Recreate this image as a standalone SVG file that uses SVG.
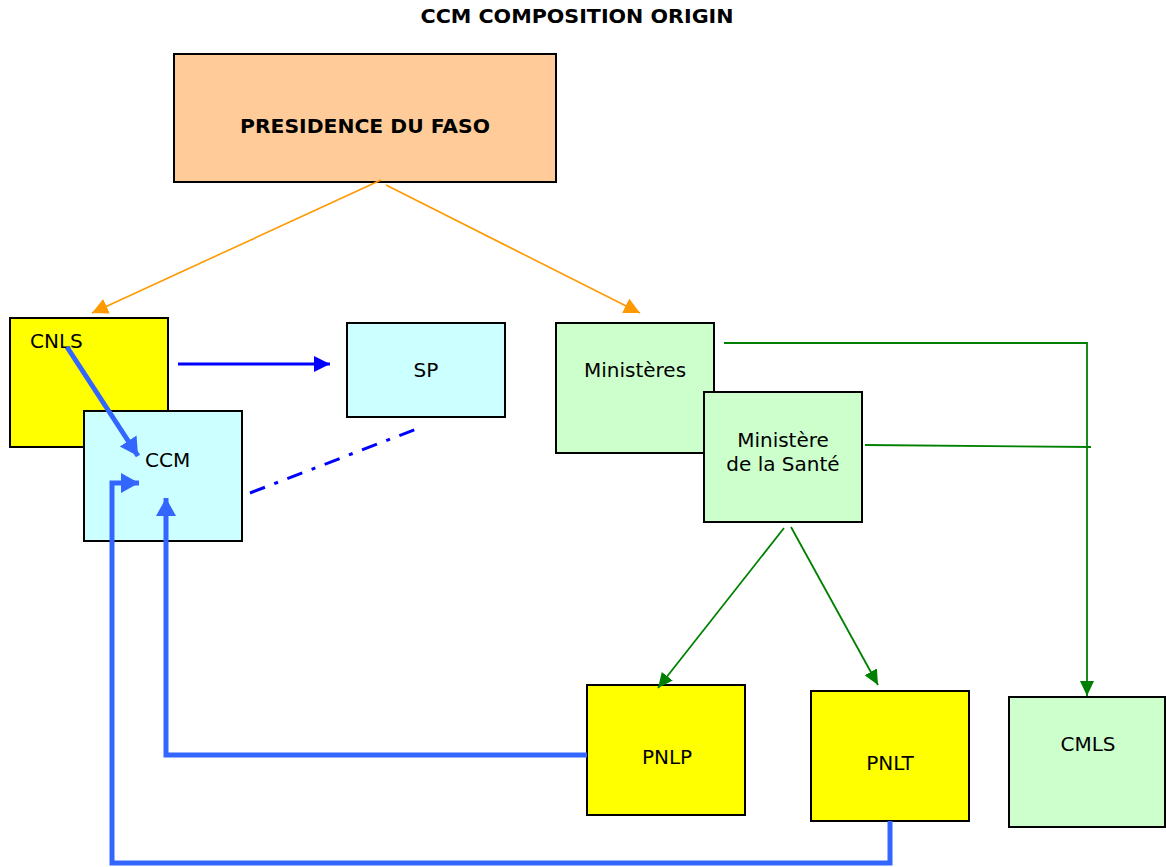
<svg xmlns="http://www.w3.org/2000/svg" width="1166" height="867" viewBox="0 0 1166 867">
<style>
.box{stroke:#000;stroke-width:2}
.t{font-family:"DejaVu Sans",Verdana,sans-serif;font-size:20px;fill:#000}
.b{font-weight:bold;font-size:19px}
.or{stroke:#FF9900;stroke-width:1.6;fill:none}
.gr{stroke:#008000;stroke-width:1.8;fill:none}
.bl{stroke:#0000FF;stroke-width:3;fill:none}
.lb{stroke:#3366FF;stroke-width:5;fill:none}
</style>
<defs>
<marker id="ao" markerUnits="userSpaceOnUse" markerWidth="20" markerHeight="18" refX="16" refY="8" orient="auto"><path d="M0,0 L16,8 L0,16 Z" fill="#FF9900"/></marker>
<marker id="ag" markerUnits="userSpaceOnUse" markerWidth="18" markerHeight="16" refX="15" refY="7" orient="auto"><path d="M0,0 L15,7 L0,14 Z" fill="#008000"/></marker>
<marker id="ab" markerUnits="userSpaceOnUse" markerWidth="18" markerHeight="16" refX="16" refY="8" orient="auto"><path d="M0,0 L16,8 L0,16 Z" fill="#0000FF"/></marker>
<marker id="alb" markerUnits="userSpaceOnUse" markerWidth="22" markerHeight="22" refX="18" refY="10" orient="auto"><path d="M0,0 L18,10 L0,20 Z" fill="#3366FF"/></marker>
</defs>
<rect width="1166" height="867" fill="#fff"/>
<text class="t b" x="577" y="23" text-anchor="middle" textLength="313" lengthAdjust="spacingAndGlyphs">CCM COMPOSITION ORIGIN</text>

<g id="presidence"><rect class="box" x="174" y="54" width="382" height="128" fill="#FFCC99"/><text class="t b" x="365" y="133" text-anchor="middle" textLength="250" lengthAdjust="spacingAndGlyphs">PRESIDENCE DU FASO</text></g>
<g id="cnls"><rect class="box" x="10" y="318" width="158" height="129" fill="#FFFF00"/><text class="t" x="30" y="348">CNLS</text></g>
<g id="ccm"><rect class="box" x="84" y="411" width="158" height="130" fill="#CCFFFF"/><text class="t" x="145" y="467">CCM</text></g>
<g id="sp"><rect class="box" x="347" y="323" width="158" height="94" fill="#CCFFFF"/><text class="t" x="426" y="377" text-anchor="middle">SP</text></g>
<g id="ministeres"><rect class="box" x="556" y="323" width="158" height="130" fill="#CCFFCC"/><text class="t" x="635" y="377" text-anchor="middle">Ministères</text></g>
<g id="sante"><rect class="box" x="704" y="392" width="158" height="130" fill="#CCFFCC"/><text class="t" x="783" y="447" text-anchor="middle">Ministère</text><text class="t" x="783" y="471" text-anchor="middle">de la Santé</text></g>
<g id="pnlp"><rect class="box" x="587" y="685" width="158" height="130" fill="#FFFF00"/><text class="t" x="667" y="764" text-anchor="middle">PNLP</text></g>
<g id="pnlt"><rect class="box" x="811" y="691" width="158" height="130" fill="#FFFF00"/><text class="t" x="890" y="770" text-anchor="middle">PNLT</text></g>
<g id="cmls"><rect class="box" x="1009" y="697" width="156" height="130" fill="#CCFFCC"/><text class="t" x="1088" y="751" text-anchor="middle">CMLS</text></g>

<g id="connectors">
<line class="or" x1="381" y1="180" x2="92" y2="313" marker-end="url(#ao)"/>
<line class="or" x1="386" y1="185" x2="640" y2="313" marker-end="url(#ao)"/>
<line class="bl" x1="178" y1="364" x2="330" y2="364" marker-end="url(#ab)"/>
<line class="bl" x1="250" y1="493" x2="419" y2="428" stroke-width="4" stroke-dasharray="16,10,4,10"/>
<line class="lb" x1="67" y1="347" x2="138" y2="456" marker-end="url(#alb)"/>
<polyline class="lb" points="587,755 166,755 166,498" marker-end="url(#alb)"/>
<polyline class="lb" points="890,821 890,863 112,863 112,483 139,483" marker-end="url(#alb)"/>
<polyline class="gr" points="724,343 1087,343 1087,696" marker-end="url(#ag)"/>
<line class="gr" x1="865" y1="445" x2="1091" y2="447"/>
<line class="gr" x1="784" y1="528" x2="658" y2="688" marker-end="url(#ag)"/>
<line class="gr" x1="791" y1="527" x2="878" y2="685" marker-end="url(#ag)"/>
</g>
</svg>
